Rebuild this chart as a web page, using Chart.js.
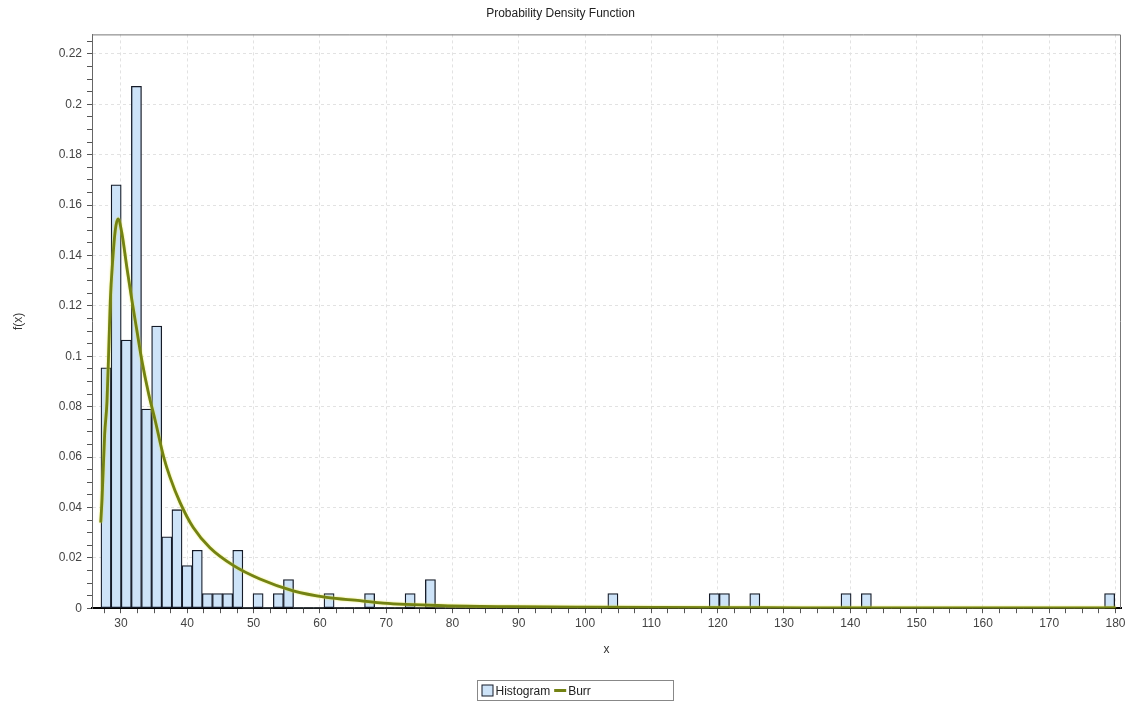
<!DOCTYPE html>
<html>
<head>
<meta charset="utf-8">
<title>Probability Density Function</title>
<script src="https://cdn.jsdelivr.net/npm/chart.js@4.4.1/dist/chart.umd.min.js"></script>
<style>
  html, body { margin: 0; padding: 0; background: #fff; }
  #wrap { width: 1132px; height: 711px; }
</style>
</head>
<body>
<div id="wrap"><canvas id="pdf-chart" width="1132" height="711"></canvas></div>
<script>
// histogram: first bin edge, bin width, density of each of the 100 bins
var binStart = 26.98;
var binWidth = 1.529;
var histDensity = [
    0.0954, 0.168, 0.1064, 0.2071, 0.079, 0.112, 0.0283, 0.0391, 0.0169, 0.023,
    0.0058, 0.0058, 0.0058, 0.023, 0, 0.0058, 0, 0.0058, 0.0114, 0,
    0, 0, 0.0058, 0, 0, 0, 0.0058, 0, 0, 0,
    0.0058, 0, 0.0114, 0, 0, 0, 0, 0, 0, 0,
    0, 0, 0, 0, 0, 0, 0, 0, 0, 0,
    0.0058, 0, 0, 0, 0, 0, 0, 0, 0, 0,
    0.0058, 0.0058, 0, 0, 0.0058, 0, 0, 0, 0, 0,
    0, 0, 0, 0.0058, 0, 0.0058, 0, 0, 0, 0,
    0, 0, 0, 0, 0, 0, 0, 0, 0, 0,
    0, 0, 0, 0, 0, 0, 0, 0, 0, 0.0058
];

// fitted Burr density
var burrX = [26.95, 27.14, 27.54, 27.89, 28.15, 28.39, 28.75, 29.14, 29.55, 30.15,
             30.9, 31.66, 32.41, 33.17, 34.18, 35.17, 36.44, 37.39, 38.9, 40.9,
             43.42, 46.93, 50.96, 55.98, 61.01, 66.03, 69.55, 78.55, 88.65, 100,
             127, 150, 180];
var burrY = [0.034, 0.043, 0.069, 0.082, 0.102, 0.122, 0.138, 0.150, 0.1545, 0.1486,
             0.135, 0.122, 0.110, 0.098, 0.085, 0.0744, 0.060, 0.052, 0.042, 0.032,
             0.024, 0.017, 0.0116, 0.0069, 0.0043, 0.003, 0.002, 0.001, 0.0006, 0.0004,
             0.0002, 0.0001, 0.0001];

// axis ranges and tick spacing
var xRange = [25.63, 180.83];
var xMinorStep = 2.5;
var xMajorStep = 10;
var yRange = [0, 0.2277];
var yMinorStep = 0.005;
var yMajorStep = 0.02;

var histFill = '#cde3f8';
var histEdge = '#151b28';
var burrColor = '#738213';
var labelFont = { family: '"Liberation Sans", Arial, sans-serif', size: 12 };

function isMultiple(v, step) {
    var r = v / step;
    return Math.abs(r - Math.round(r)) < 1e-6;
}

var histPoints = histDensity.map(function (d, i) {
    return { x: binStart + binWidth * (i + 0.5), y: d };
});
var burrPoints = burrX.map(function (x, i) {
    return { x: x, y: burrY[i] };
});

// grey outline on the top and right of the plot
var plotFrame = {
    id: 'plotFrame',
    afterDatasetsDraw: function (chart) {
        var a = chart.chartArea, c = chart.ctx;
        c.save();
        c.strokeStyle = '#777';
        c.lineWidth = 1;
        c.beginPath();
        c.moveTo(a.left, a.top + 0.5);
        c.lineTo(a.right - 0.5, a.top + 0.5);
        c.lineTo(a.right - 0.5, a.bottom);
        c.stroke();
        c.restore();
    }
};

// soft yellow halo under the fitted curve
var curveHalo = {
    id: 'curveHalo',
    beforeDatasetDraw: function (chart, args) {
        if (args.meta.type === 'line') {
            chart.ctx.save();
            chart.ctx.shadowColor = 'rgba(225, 225, 60, 0.9)';
            chart.ctx.shadowBlur = 2;
        }
    },
    afterDatasetDraw: function (chart, args) {
        if (args.meta.type === 'line') {
            chart.ctx.restore();
        }
    }
};

// legend in a bordered box under the axis title
var boxedLegend = {
    id: 'boxedLegend',
    afterDraw: function (chart) {
        var c = chart.ctx;
        var w = 196, h = 20;
        var left = Math.round(chart.width / 2 - 89) + 0.5;
        var top = chart.height - 30.5;
        var mid = top + h / 2;
        c.save();
        c.strokeStyle = '#888';
        c.lineWidth = 1;
        c.strokeRect(left, top, w, h);
        c.font = labelFont.size + 'px ' + labelFont.family;
        c.textBaseline = 'middle';
        c.fillStyle = '#222';
        var x = left + 4;
        chart.data.datasets.forEach(function (ds) {
            if (ds.type === 'line') {
                c.strokeStyle = ds.borderColor;
                c.lineWidth = 3;
                c.beginPath();
                c.moveTo(x, mid);
                c.lineTo(x + 12, mid);
                c.stroke();
            } else {
                c.fillStyle = ds.backgroundColor;
                c.fillRect(x + 0.5, mid - 5.5, 11, 11);
                c.strokeStyle = histEdge;
                c.lineWidth = 1;
                c.strokeRect(x + 0.5, mid - 5.5, 11, 11);
            }
            c.fillStyle = '#222';
            c.fillText(ds.label, x + 14, mid + 1);
            x += 14 + c.measureText(ds.label).width + 4;
        });
        c.restore();
    }
};

var pdfChart = new Chart(document.getElementById('pdf-chart').getContext('2d'), {
    type: 'bar',
    data: {
        datasets: [{
            type: 'bar',
            label: 'Histogram',
            data: histPoints,
            backgroundColor: histFill,
            borderColor: histEdge,
            borderWidth: function (ctx) {
                return ctx.raw && ctx.raw.y > 0 ? 1.3 : 0;
            },
            borderSkipped: false,
            barPercentage: 1,
            categoryPercentage: 1,
            grouped: false,
            order: 2
        }, {
            type: 'line',
            label: 'Burr',
            data: burrPoints,
            borderColor: burrColor,
            backgroundColor: burrColor,
            borderWidth: 2.8,
            pointRadius: 0,
            cubicInterpolationMode: 'monotone',
            fill: false,
            order: 1
        }]
    },
    options: {
        responsive: false,
        animation: false,
        devicePixelRatio: 1,
        layout: { padding: { left: 0, right: 11, top: 0, bottom: 47 } },
        plugins: {
            legend: { display: false },
            tooltip: { enabled: false },
            title: {
                display: true,
                text: 'Probability Density Function',
                color: '#222',
                font: { family: labelFont.family, size: 12, weight: 'normal' },
                padding: { top: 6, bottom: 14 }
            }
        },
        scales: {
            x: {
                type: 'linear',
                min: xRange[0],
                max: xRange[1],
                offset: false,
                ticks: {
                    stepSize: xMinorStep,
                    includeBounds: false,
                    autoSkip: false,
                    maxRotation: 0,
                    padding: 3,
                    color: '#444',
                    font: labelFont,
                    callback: function (v) {
                        return isMultiple(v, xMajorStep) ? String(v) : '';
                    }
                },
                grid: {
                    offset: false,
                    lineWidth: 1,
                    tickLength: 5,
                    tickColor: '#555',
                    color: function (ctx) {
                        return ctx.tick && isMultiple(ctx.tick.value, xMajorStep) ? '#e2e2e2' : 'transparent';
                    }
                },
                border: { color: '#000', width: 2, dash: [3, 3] },
                title: {
                    display: true,
                    text: 'x',
                    color: '#333',
                    font: labelFont,
                    padding: { top: 9, bottom: 7 }
                }
            },
            y: {
                min: yRange[0],
                max: yRange[1],
                ticks: {
                    stepSize: yMinorStep,
                    includeBounds: false,
                    autoSkip: false,
                    padding: 5,
                    color: '#444',
                    font: labelFont,
                    callback: function (v) {
                        return isMultiple(v, yMajorStep) ? String(+v.toFixed(2)) : '';
                    }
                },
                grid: {
                    lineWidth: 1,
                    tickLength: 5,
                    tickColor: '#555',
                    color: function (ctx) {
                        return ctx.tick && ctx.tick.value > 0 && isMultiple(ctx.tick.value, yMajorStep) ? '#e2e2e2' : 'transparent';
                    }
                },
                border: { color: '#666', width: 1, dash: [3, 3] },
                title: {
                    display: true,
                    text: 'f(x)',
                    color: '#333',
                    font: labelFont,
                    padding: { top: 11, bottom: 0 }
                },
                afterFit: function (scale) {
                    scale.width = 92;
                }
            }
        }
    },
    plugins: [plotFrame, curveHalo, boxedLegend]
});
</script>
</body>
</html>
